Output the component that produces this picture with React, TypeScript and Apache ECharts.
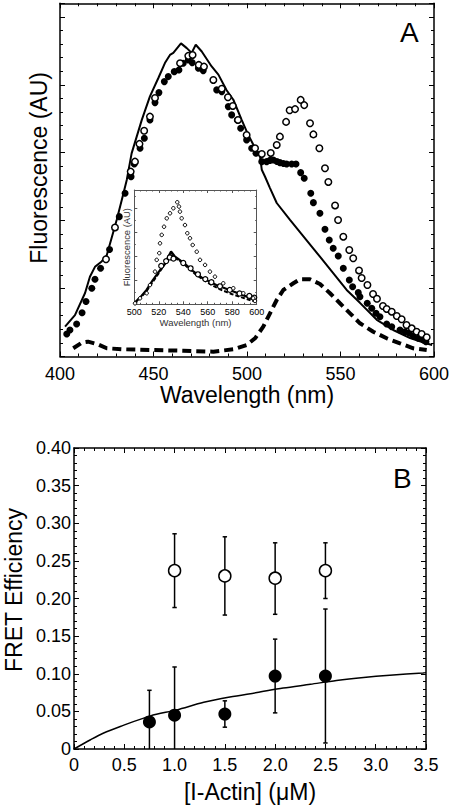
import React, { useEffect, useRef } from 'react';
import * as echarts from 'echarts';

const FONT = '"Liberation Sans", Arial, Helvetica, sans-serif';

// ---------- Panel A : emission spectra (wavelength nm, fluorescence AU) ----------
const donorLine: number[][] = [
  [402.7, 0.44], [408.0, 0.61], [413.4, 0.935], [416.0, 1.175], [418.7, 1.32], [422.3, 1.40],
  [425.0, 1.49], [427.6, 1.745], [430.3, 2.01], [433.0, 2.30], [435.7, 2.60], [438.3, 2.99],
  [443.7, 3.48], [448.1, 3.83], [452.6, 4.10], [456.1, 4.32], [458.8, 4.44], [460.6, 4.47],
  [464.7, 4.61], [467.8, 4.54], [470.4, 4.47], [472.6, 4.59], [475.8, 4.49], [481.1, 4.27],
  [484.7, 4.15], [489.1, 3.92], [492.7, 3.78], [497.2, 3.48], [500.7, 3.26], [504.3, 3.07],
  [507.0, 2.94], [507.9, 2.75], [509.6, 2.65], [512.3, 2.48], [515.9, 2.26], [523.0, 2.01],
  [531.9, 1.71], [539.0, 1.47], [546.2, 1.225], [553.3, 0.98], [560.4, 0.79], [569.4, 0.54],
  [578.2, 0.39], [587.2, 0.27], [596.1, 0.19], [599.0, 0.17],
];

const filledSpectrum: number[][] = [
  [403.6, 0.331], [405.3, 0.39], [408.9, 0.479], [411.8, 0.645], [413.9, 0.81], [417.0, 1.004],
  [418.7, 1.137], [421.7, 1.299], [426.5, 1.576], [431.7, 2.059], [434.8, 2.404], [438.0, 2.648],
  [439.7, 2.835], [442.8, 3.066], [445.1, 3.214], [448.1, 3.483], [450.8, 3.738], [452.9, 3.885],
  [455.8, 4.047], [457.9, 4.121], [461.1, 4.194], [463.6, 4.219], [465.9, 4.318], [468.6, 4.367],
  [470.7, 4.327], [474.0, 4.244], [476.6, 4.209], [482.0, 4.072], [483.8, 3.925], [486.5, 3.9],
  [490.0, 3.679], [491.8, 3.557], [494.8, 3.483], [496.6, 3.361], [499.8, 3.189], [502.5, 3.066],
  [504.8, 2.993], [507.9, 2.869], [510.5, 2.869], [512.3, 2.887], [514.1, 2.894], [516.0, 2.872],
  [517.6, 2.854], [519.5, 2.842], [521.2, 2.835], [523.9, 2.835], [526.2, 2.835], [528.7, 2.707],
  [530.6, 2.624], [534.1, 2.404], [535.5, 2.265], [539.0, 2.109], [541.7, 1.873], [544.0, 1.716],
  [546.1, 1.594], [548.8, 1.48], [551.5, 1.299], [554.7, 1.127], [556.5, 1.028], [559.5, 0.94],
  [560.4, 0.881], [564.3, 0.784], [566.7, 0.71], [569.0, 0.636], [571.1, 0.586], [574.7, 0.479],
  [577.4, 0.439], [581.8, 0.39], [584.5, 0.365], [586.8, 0.342], [588.9, 0.302], [591.6, 0.268],
  [594.3, 0.243], [595.7, 0.218],
];

const openSpectrum: number[][] = [
  [424.6, 1.432], [429.4, 1.9], [437.8, 2.722], [440.1, 2.869], [442.5, 3.13], [445.0, 3.324],
  [448.1, 3.532], [450.8, 3.807], [464.2, 4.318], [468.6, 4.426], [470.9, 4.44], [474.2, 4.293],
  [477.0, 4.268], [482.0, 4.072], [486.5, 3.943], [489.8, 3.817], [492.4, 3.689], [495.2, 3.483],
  [499.8, 3.262], [504.3, 3.066], [507.9, 2.982], [512.7, 2.997], [515.9, 3.115], [517.6, 3.237],
  [520.9, 3.454], [522.8, 3.626], [525.7, 3.642], [528.7, 3.778], [530.6, 3.701], [533.7, 3.434],
  [535.5, 3.27], [538.7, 3.066], [541.7, 2.772], [543.5, 2.57], [547.1, 2.224], [548.7, 2.01],
  [551.5, 1.764], [554.7, 1.568], [556.8, 1.446], [559.9, 1.267], [561.3, 1.156], [564.4, 1.053],
  [567.4, 0.92], [569.5, 0.85], [572.7, 0.744], [574.7, 0.7], [577.4, 0.66], [580.1, 0.596],
  [582.7, 0.548], [585.3, 0.464], [588.1, 0.415], [590.7, 0.365], [593.4, 0.331], [596.1, 0.283],
];

const dashedSpectrum: number[][] = [
  [407.1, 0.121], [411.6, 0.203], [415.0, 0.218], [420.5, 0.177], [425.0, 0.121], [433.9, 0.106],
  [448.1, 0.096], [465.9, 0.085], [482.0, 0.071], [492.7, 0.106], [499.8, 0.169], [504.3, 0.268],
  [508.7, 0.439], [512.3, 0.636], [515.9, 0.832], [519.4, 0.979], [524.8, 1.078], [528.3, 1.137],
  [533.7, 1.137], [539.0, 1.068], [544.4, 0.931], [549.7, 0.784], [555.1, 0.636], [560.4, 0.489],
  [567.5, 0.365], [574.7, 0.268], [581.8, 0.194], [588.9, 0.121], [596.1, 0.096],
];

// ---------- Inset ----------
const insetOpenSmall: number[][] = [
  [500.6, 0.04], [504.7, 0.25], [510.1, 0.46], [512.8, 0.8], [516.9, 1.36], [518.3, 1.85],
  [520.4, 2.13], [521.0, 2.54], [522.4, 2.89], [524.3, 3.23], [526.5, 3.58], [529.2, 3.79],
  [531.9, 4.0], [535.1, 4.25], [536.5, 4.07], [537.3, 3.86], [538.7, 3.58], [541.4, 3.3],
  [543.3, 2.96], [545.5, 2.75], [547.7, 2.47], [551.0, 2.19], [553.7, 1.85], [557.8, 1.64],
  [561.8, 1.36], [565.9, 1.15], [572.7, 0.875], [580.9, 0.67], [589.1, 0.46], [597.2, 0.25],
  [598.6, 0.14],
];
const insetSolid: number[][] = [
  [500, 0.05], [505, 0.3], [510, 0.6], [515, 1.0], [520, 1.35], [525, 1.7], [530, 2.2],
  [533, 2.0], [537, 1.85], [542, 1.65], [548, 1.38], [556, 1.08], [567, 0.8], [581, 0.53],
  [592, 0.32], [599, 0.15],
];
const insetDashed: number[][] = [
  [500, 0.0], [510, 0.55], [520, 1.3], [530, 2.05], [540, 1.7], [550, 1.25], [560, 0.9],
  [570, 0.62], [580, 0.42], [590, 0.25], [599, 0.1],
];
const insetCircles: number[][] = [
  [522, 1.6], [526, 1.8], [529, 1.95], [532, 1.9], [540, 1.72], [546, 1.5], [552, 1.25],
  [558, 1.05], [563, 0.92], [570, 0.75], [578, 0.6], [586, 0.45], [594, 0.35], [598, 0.28],
];

// ---------- Panel B : FRET efficiency vs [I-Actin] ----------
const openX = [1.0, 1.5, 2.0, 2.5];
const openY = [0.237, 0.23, 0.227, 0.237];
const openLow = [0.188, 0.178, 0.179, 0.2];
const openHigh = [0.286, 0.282, 0.274, 0.274];

const filledX = [0.75, 1.0, 1.5, 2.0, 2.5];
const filledY = [0.036, 0.045, 0.0465, 0.097, 0.097];
const filledLow = [0, 0, 0.029, 0.048, 0.008];
const filledHigh = [0.078, 0.109, 0.064, 0.146, 0.186];

const fitCurve: number[][] = [
  [0, 0], [0.16, 0.012], [0.29, 0.021], [0.46, 0.03], [0.76, 0.044], [1.02, 0.052],
  [1.29, 0.062], [1.55, 0.069], [1.82, 0.075], [2.08, 0.081], [2.35, 0.086], [2.61, 0.091],
  [2.88, 0.095], [3.14, 0.098], [3.47, 0.101], [3.5, 0.1015],
];

const textStyle = (size: number, color = '#000') => ({ fontSize: size, fontFamily: FONT, color });

function makeAxis(o: any) {
  const {
    gridIndex, min, max, interval, position, labels, name, nameGap, split, labelSize = 18,
    nameSize = 23, margin = 8, lineColor = '#000', lineWidth = 1.5, tickLen = 5, minorLen = 3,
    formatter, namePadding,
  } = o;
  return {
    type: 'value', gridIndex, min, max, interval, position,
    axisLine: { show: true, onZero: false, lineStyle: { color: lineColor, width: lineWidth } },
    axisTick: { show: true, inside: true, length: tickLen, lineStyle: { color: lineColor, width: 1 } },
    minorTick: { show: true, splitNumber: split, length: minorLen, lineStyle: { color: lineColor, width: 1 } },
    splitLine: { show: false },
    minorSplitLine: { show: false },
    axisLabel: labels
      ? { show: true, margin, ...textStyle(labelSize), formatter }
      : { show: false },
    name: name || '',
    nameLocation: 'middle',
    nameGap: nameGap || 0,
    nameTextStyle: {
      ...textStyle(nameSize, name && nameSize < 12 ? '#333' : '#000'),
      ...(namePadding ? { padding: namePadding } : {}),
    },
  };
}

const errorItem = (params: any, api: any) => {
  const x = api.value(0);
  const lo = api.value(1);
  const hi = api.value(2);
  const top = api.coord([x, hi]);
  const bot = api.coord([x, lo]);
  const st = { stroke: '#000', lineWidth: 1.5 };
  const children: any[] = [
    { type: 'line', shape: { x1: top[0], y1: top[1], x2: bot[0], y2: bot[1] }, style: st },
    { type: 'line', shape: { x1: top[0] - 2.2, y1: top[1], x2: top[0] + 2.2, y2: top[1] }, style: st },
  ];
  if (lo > 0) {
    children.push({ type: 'line', shape: { x1: bot[0] - 2.2, y1: bot[1], x2: bot[0] + 2.2, y2: bot[1] }, style: st });
  }
  return { type: 'group', children };
};

export default function App() {
  const ref = useRef<HTMLDivElement>(null);
  useEffect(() => {
    const chart = echarts.init(ref.current!, null, { renderer: 'svg' });
    const fmtB1 = (v: number) => (v === 0 ? '0' : v.toFixed(1));
    const fmtB2 = (v: number) => (v === 0 ? '0' : v.toFixed(2));
    const filledStyle = { color: '#000', opacity: 1 };
    const openStyle = (bw: number) => ({ color: '#fff', borderColor: '#000', borderWidth: bw, opacity: 1 });
    const gridBase = { containLabel: false, outerBoundsMode: 'none' };
    const option: any = {
      animation: false,
      backgroundColor: '#fff',
      grid: [
        { ...gridBase, left: 60, top: 3.3, width: 374, height: 353.2 },
        { ...gridBase, left: 134.3, top: 190, width: 122.4, height: 114.3, show: true, backgroundColor: '#fff', borderWidth: 0 },
        { ...gridBase, left: 74, top: 448, width: 352, height: 301 },
      ],
      xAxis: [
        makeAxis({ gridIndex: 0, min: 400, max: 600, interval: 50, position: 'bottom', labels: true, name: 'Wavelength (nm)', nameGap: 27, split: 5 }),
        makeAxis({ gridIndex: 0, min: 400, max: 600, interval: 50, position: 'top', labels: false, split: 5 }),
        makeAxis({ gridIndex: 1, min: 500, max: 600, interval: 20, position: 'bottom', labels: true, labelSize: 9, margin: 3, name: 'Wavelength (nm)', nameGap: 10, nameSize: 9.5, split: 4, lineColor: '#555', lineWidth: 1, tickLen: 3, minorLen: 1.5 }),
        makeAxis({ gridIndex: 1, min: 500, max: 600, interval: 20, position: 'top', labels: false, split: 4, lineColor: '#555', lineWidth: 1, tickLen: 3, minorLen: 1.5 }),
        makeAxis({ gridIndex: 2, min: 0, max: 3.5, interval: 0.5, position: 'bottom', labels: true, margin: 7, name: '[I-Actin] (\u03BCM)', nameGap: 31, split: 5, formatter: fmtB1 }),
        makeAxis({ gridIndex: 2, min: 0, max: 3.5, interval: 0.5, position: 'top', labels: false, split: 5 }),
      ],
      yAxis: [
        makeAxis({ gridIndex: 0, min: 0, max: 5.2, interval: 1, position: 'left', labels: false, name: 'Fluorescence (AU)', nameGap: 10, split: 5, namePadding: [0, 0, 0, 24] }),
        makeAxis({ gridIndex: 0, min: 0, max: 5.2, interval: 1, position: 'right', labels: false, split: 5 }),
        makeAxis({ gridIndex: 1, min: 0, max: 4.76, interval: 1, position: 'left', labels: false, name: 'Fluorescence (AU)', nameGap: 3, nameSize: 9.4, split: 2, lineColor: '#555', lineWidth: 1, tickLen: 3, minorLen: 1.5 }),
        makeAxis({ gridIndex: 1, min: 0, max: 4.76, interval: 1, position: 'right', labels: false, split: 2, lineColor: '#555', lineWidth: 1, tickLen: 3, minorLen: 1.5 }),
        makeAxis({ gridIndex: 2, min: 0, max: 0.4, interval: 0.05, position: 'left', labels: true, margin: 3, name: 'FRET Efficiency', nameGap: 49, split: 5, formatter: fmtB2, namePadding: [0, 0, 0, 17] }),
        makeAxis({ gridIndex: 2, min: 0, max: 0.4, interval: 0.05, position: 'right', labels: false, split: 5 }),
      ],
      series: [
        // Panel A
        { type: 'line', xAxisIndex: 0, yAxisIndex: 0, data: donorLine, symbol: 'none', lineStyle: { color: '#000', width: 2 }, z: 2 },
        { type: 'line', xAxisIndex: 0, yAxisIndex: 0, data: dashedSpectrum, symbol: 'none', lineStyle: { color: '#000', width: 4, type: [9, 5], cap: 'butt' }, z: 2 },
        { type: 'scatter', xAxisIndex: 0, yAxisIndex: 0, data: filledSpectrum, symbol: 'circle', symbolSize: 7, itemStyle: filledStyle, z: 3 },
        { type: 'scatter', xAxisIndex: 0, yAxisIndex: 0, data: openSpectrum, symbol: 'circle', symbolSize: 6.5, itemStyle: openStyle(1.5), z: 4 },
        // Inset
        { type: 'line', xAxisIndex: 2, yAxisIndex: 2, data: insetSolid, symbol: 'none', lineStyle: { color: '#000', width: 2.2 }, z: 5 },
        { type: 'line', xAxisIndex: 2, yAxisIndex: 2, data: insetDashed, symbol: 'none', lineStyle: { color: '#000', width: 2, type: [4, 2] }, z: 5 },
        { type: 'scatter', xAxisIndex: 2, yAxisIndex: 2, data: insetCircles, symbol: 'circle', symbolSize: 5, itemStyle: openStyle(1.2), z: 6 },
        { type: 'scatter', xAxisIndex: 2, yAxisIndex: 2, data: insetOpenSmall, symbol: 'circle', symbolSize: 3.5, itemStyle: openStyle(1), z: 6 },
        // Panel B
        { type: 'line', xAxisIndex: 4, yAxisIndex: 4, data: fitCurve, symbol: 'none', smooth: 0.3, lineStyle: { color: '#000', width: 1.5 }, z: 2 },
        {
          type: 'custom', xAxisIndex: 4, yAxisIndex: 4, renderItem: errorItem, z: 3,
          encode: { x: 0, y: [1, 2] },
          data: openX.map((x, i) => [x, openLow[i], openHigh[i]]),
        },
        {
          type: 'custom', xAxisIndex: 4, yAxisIndex: 4, renderItem: errorItem, z: 3,
          encode: { x: 0, y: [1, 2] },
          data: filledX.map((x, i) => [x, filledLow[i], filledHigh[i]]),
        },
        { type: 'scatter', xAxisIndex: 4, yAxisIndex: 4, data: openX.map((x, i) => [x, openY[i]]), symbol: 'circle', symbolSize: 12, itemStyle: openStyle(1.5), z: 4 },
        { type: 'scatter', xAxisIndex: 4, yAxisIndex: 4, data: filledX.map((x, i) => [x, filledY[i]]), symbol: 'circle', symbolSize: 13, itemStyle: filledStyle, z: 4 },
      ],
      graphic: [
        { type: 'text', left: 400, top: 18, style: { text: 'A', fontSize: 28, fontFamily: FONT, fill: '#000' } },
        { type: 'text', left: 393, top: 464.6, style: { text: 'B', fontSize: 28, fontFamily: FONT, fill: '#000' } },
      ],
    };
    chart.setOption(option);
    return () => chart.dispose();
  }, []);
  return (
    <div
      ref={ref}
      style={{ position: 'absolute', left: 0, top: 0, width: 450, height: 807, background: '#fff' }}
    />
  );
}
